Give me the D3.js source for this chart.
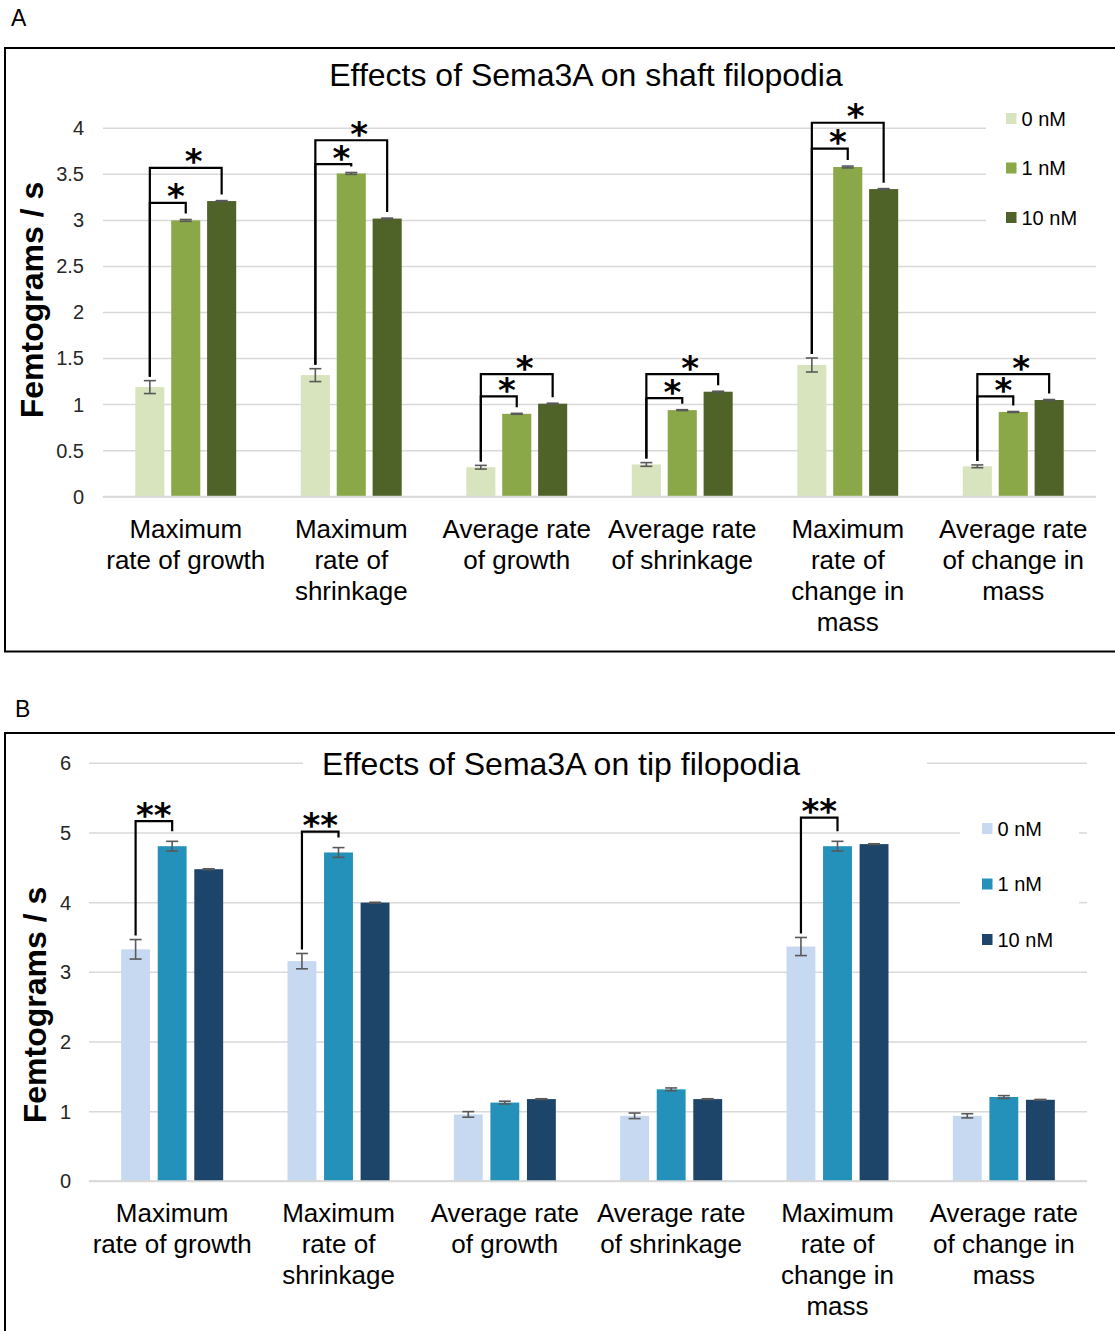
<!DOCTYPE html>
<html>
<head>
<meta charset="utf-8">
<script src="https://cdn.jsdelivr.net/npm/d3@7"></script>
<style>
  html, body { margin: 0; padding: 0; background: #fff; }
  svg { display: block; font-family: "Liberation Sans", Arial, sans-serif; }
</style>
</head>
<body>
<svg id="fig" width="1115" height="1331"></svg>
<script>
// ---- data ----
const categories = [
  ["Maximum", "rate of growth"],
  ["Maximum", "rate of", "shrinkage"],
  ["Average rate", "of growth"],
  ["Average rate", "of shrinkage"],
  ["Maximum", "rate of", "change in", "mass"],
  ["Average rate", "of change in", "mass"]
];
const seriesNames = ["0 nM", "1 nM", "10 nM"];

// Shaft filopodia (fg/s)
const shaft0nM  = [1.19, 1.32, 0.32, 0.35, 1.43, 0.33];
const shaft1nM  = [3.00, 3.51, 0.90, 0.94, 3.58, 0.92];
const shaft10nM = [3.21, 3.02, 1.01, 1.14, 3.34, 1.05];
const shaftErr0nM  = [0.07, 0.07, 0.02, 0.02, 0.076, 0.015];
const shaftErr1nM  = [0.01, 0.01, 0.005, 0.005, 0.01, 0.005];
const shaftErr10nM = [0.005, 0.005, 0.005, 0.005, 0.005, 0.005];
const shaftTicks = [0, 0.5, 1, 1.5, 2, 2.5, 3, 3.5, 4];
// significance brackets: group, from series, to series, bracket level (fg/s), mark
const shaftBrackets = [
  [0, 0, 1, 3.19, "*"], [0, 0, 2, 3.57, "*"],
  [1, 0, 1, 3.61, "*"], [1, 0, 2, 3.87, "*"],
  [2, 0, 1, 1.09, "*"], [2, 0, 2, 1.33, "*"],
  [3, 0, 1, 1.07, "*"], [3, 0, 2, 1.33, "*"],
  [4, 0, 1, 3.78, "*"], [4, 0, 2, 4.06, "*"],
  [5, 0, 1, 1.09, "*"], [5, 0, 2, 1.33, "*"]
];

// Tip filopodia (fg/s)
const tip0nM  = [3.33, 3.16, 0.96, 0.94, 3.37, 0.94];
const tip1nM  = [4.81, 4.72, 1.13, 1.32, 4.81, 1.21];
const tip10nM = [4.48, 4.00, 1.18, 1.18, 4.84, 1.17];
const tipErr0nM  = [0.14, 0.11, 0.04, 0.04, 0.13, 0.03];
const tipErr1nM  = [0.07, 0.07, 0.02, 0.02, 0.07, 0.02];
const tipErr10nM = [0.005, 0.005, 0.005, 0.005, 0.005, 0.005];
const tipTicks = [0, 1, 2, 3, 4, 5, 6];
const tipBrackets = [
  [0, 0, 1, 5.17, "**"],
  [1, 0, 1, 5.02, "**"],
  [4, 0, 1, 5.22, "**"]
];

const shaftColors = ["#D7E4BD", "#8BA848", "#4F6228"];
const tipColors   = ["#C6D9F0", "#2391BA", "#1D4469"];

const svg = d3.select("#fig");

function drawPanel(p) {
  const g = svg.append("g");

  // panel letter
  g.append("text").attr("x", p.letterX).attr("y", p.letterY)
    .attr("font-size", 23).attr("fill", "#000").text(p.letter);

  // frame
  g.append("rect").attr("x", 5).attr("y", p.boxTop)
    .attr("width", 1130).attr("height", p.boxBottom - p.boxTop)
    .attr("fill", "none").attr("stroke", "#000").attr("stroke-width", 2);

  const y = d3.scaleLinear().domain(p.yDomain).range([p.yBottom, p.yTop]);
  const x = d3.scaleBand().domain(d3.range(categories.length)).range([p.x0, p.x1]).padding(0);
  const xs = d3.scaleBand().domain(d3.range(3)).range([0, x.bandwidth()])
    .paddingInner(p.padIn).paddingOuter(p.padOut);

  // gridlines, broken where the title or legend sits
  p.ticks.forEach(t => {
    const yy = y(t);
    let segs = [[p.x0, p.x1]];
    p.gaps.forEach(gp => {
      if (yy >= gp.y0 && yy <= gp.y1) {
        const out = [];
        segs.forEach(([a, b]) => {
          if (gp.x1 <= a || gp.x0 >= b) { out.push([a, b]); return; }
          if (gp.x0 > a) out.push([a, gp.x0]);
          if (gp.x1 < b) out.push([gp.x1, b]);
        });
        segs = out;
      }
    });
    segs.forEach(([a, b]) => {
      g.append("line").attr("x1", a).attr("x2", b).attr("y1", yy).attr("y2", yy)
        .attr("stroke", "#D9D9D9").attr("stroke-width", 1.5);
    });
  });

  // y tick labels
  const axis = d3.axisLeft(y).tickValues(p.ticks).tickSize(0).tickPadding(0)
    .tickFormat(d3.format("~g"));
  const ax = g.append("g").attr("transform", `translate(${p.tickRight},0)`).call(axis);
  ax.select(".domain").remove();
  ax.selectAll("text").attr("font-size", 20).attr("fill", "#262626")
    .attr("font-family", "Liberation Sans, Arial, sans-serif");

  // y axis title
  g.append("text")
    .attr("transform", `translate(${p.yTitleX},${p.yTitleY}) rotate(-90)`)
    .attr("text-anchor", "middle").attr("font-size", 32).attr("font-weight", "bold")
    .attr("fill", "#000").text("Femtograms / s");

  // chart title
  g.append("text").attr("x", p.titleX).attr("y", p.titleY)
    .attr("text-anchor", "middle").attr("font-size", 32).attr("fill", "#000")
    .text(p.title);

  // bars
  const rows = [];
  categories.forEach((c, i) => {
    p.values.forEach((vals, s) => {
      rows.push({ i, s, v: vals[i], e: p.errors[s][i] });
    });
  });
  g.selectAll("rect.bar").data(rows).join("rect").attr("class", "bar")
    .attr("x", d => x(d.i) + xs(d.s))
    .attr("width", xs.bandwidth())
    .attr("y", d => y(d.v))
    .attr("height", d => y(0) - y(d.v))
    .attr("fill", d => p.colors[d.s]);

  // error bars
  const cx = d => x(d.i) + xs(d.s) + xs.bandwidth() / 2;
  const eb = g.selectAll("g.err").data(rows).join("g").attr("class", "err")
    .attr("stroke", "#595959").attr("stroke-width", 1.6);
  eb.append("line").attr("x1", cx).attr("x2", cx)
    .attr("y1", d => y(d.v + d.e)).attr("y2", d => y(d.v - d.e));
  eb.append("line").attr("x1", d => cx(d) - 6).attr("x2", d => cx(d) + 6)
    .attr("y1", d => y(d.v + d.e)).attr("y2", d => y(d.v + d.e));
  eb.append("line").attr("x1", d => cx(d) - 6).attr("x2", d => cx(d) + 6)
    .attr("y1", d => y(d.v - d.e)).attr("y2", d => y(d.v - d.e));

  // zero baseline
  g.append("line").attr("x1", p.x0).attr("x2", p.x1)
    .attr("y1", y(0)).attr("y2", y(0)).attr("stroke", "#D9D9D9").attr("stroke-width", 2);

  // significance brackets
  p.brackets.forEach(([gi, a, b, level, mark]) => {
    const xa = x(gi) + xs(a) + xs.bandwidth() / 2;
    const xb = x(gi) + xs(b) + xs.bandwidth() / 2;
    const ya = y(p.values[a][gi] + p.errors[a][gi]) - 4;
    const yb = y(p.values[b][gi] + p.errors[b][gi]) - p.dropGap;
    const yl = y(level);
    g.append("path")
      .attr("d", `M${xa},${ya}V${yl}H${xb}V${yb}`)
      .attr("fill", "none").attr("stroke", "#000").attr("stroke-width", 2.2);
    g.append("text").attr("x", (xa + xb) / 2 + p.starDx).attr("y", yl + 5.5)
      .attr("text-anchor", "middle").attr("font-family", "DejaVu Sans, sans-serif")
      .attr("font-weight", "bold").attr("font-size", 34).attr("fill", "#000")
      .text(mark);
  });

  // category labels
  categories.forEach((lines, i) => {
    const t = g.append("text").attr("text-anchor", "middle")
      .attr("font-size", 26).attr("fill", "#000");
    lines.forEach((ln, k) => {
      t.append("tspan").attr("x", x(i) + x.bandwidth() / 2)
        .attr("y", y(0) + 41 + k * 31).text(ln);
    });
  });

  // legend
  seriesNames.forEach((nm, s) => {
    const cy = p.legendY + s * p.legendStep;
    g.append("rect").attr("x", p.legendX).attr("y", cy - 5.5)
      .attr("width", 10.5).attr("height", 11).attr("fill", p.colors[s]);
    g.append("text").attr("x", p.legendX + 15.5).attr("y", cy + 7)
      .attr("font-size", 20).attr("fill", "#000").text(nm);
  });
}

drawPanel({
  letter: "A", letterX: 11, letterY: 26,
  boxTop: 48, boxBottom: 651.5,
  yDomain: [0, 4], yBottom: 496.7, yTop: 128.3,
  x0: 103, x1: 1096, padIn: 0.19, padOut: 0.9,
  ticks: shaftTicks, tickRight: 84,
  yTitleX: 43, yTitleY: 300,
  title: "Effects of Sema3A on shaft filopodia", titleX: 586, titleY: 86,
  values: [shaft0nM, shaft1nM, shaft10nM],
  errors: [shaftErr0nM, shaftErr1nM, shaftErr10nM],
  colors: shaftColors,
  brackets: shaftBrackets, dropGap: 6, starDx: 8,
  gaps: [{ x0: 986, x1: 1200, y0: 90, y1: 235 }],
  legendX: 1006, legendY: 118.5, legendStep: 49.5
});

drawPanel({
  letter: "B", letterX: 15, letterY: 717,
  boxTop: 733, boxBottom: 1400,
  yDomain: [0, 6], yBottom: 1181.3, yTop: 763.3,
  x0: 89, x1: 1087, padIn: 0.21, padOut: 0.88,
  ticks: tipTicks, tickRight: 71,
  yTitleX: 46, yTitleY: 1005,
  title: "Effects of Sema3A on tip filopodia", titleX: 561, titleY: 775,
  values: [tip0nM, tip1nM, tip10nM],
  errors: [tipErr0nM, tipErr1nM, tipErr10nM],
  colors: tipColors,
  brackets: tipBrackets, dropGap: 10, starDx: 0,
  gaps: [{ x0: 303, x1: 927, y0: 740, y1: 790 },
         { x0: 960, x1: 1079, y0: 800, y1: 960 }],
  legendX: 982, legendY: 828.5, legendStep: 55.5
});
</script>
</body>
</html>
